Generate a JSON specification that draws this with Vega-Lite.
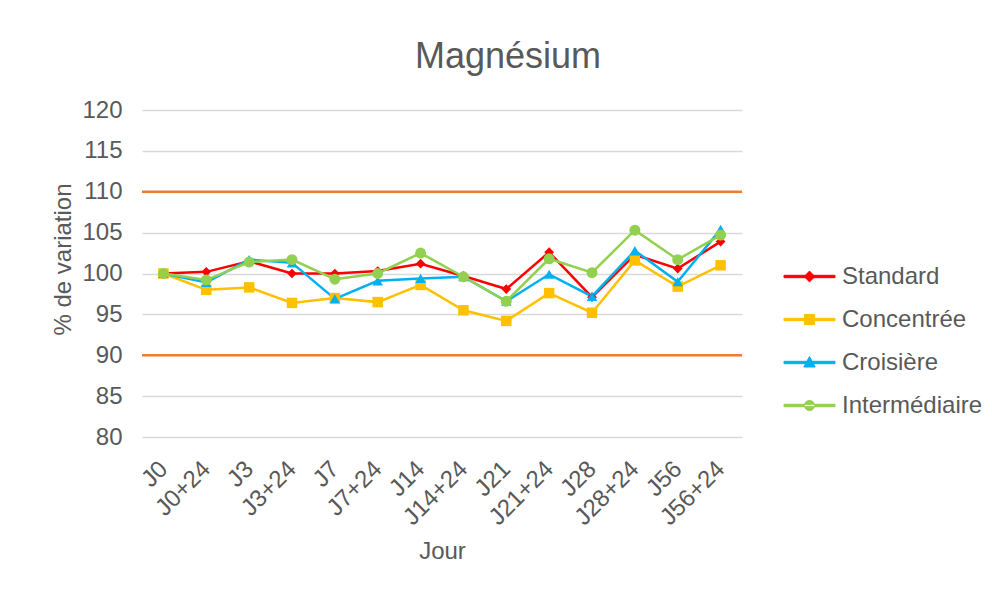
{
  "$schema": "https://vega.github.io/schema/vega-lite/v6.json",
  "width": 600,
  "height": 327,
  "autosize": {"type": "none"},
  "padding": {"left": 142, "top": 110, "right": 250, "bottom": 153},
  "background": "white",
  "title": {
    "text": "Magnésium",
    "fontSize": 36,
    "fontWeight": "normal",
    "font": "Liberation Sans",
    "color": "#595959",
    "anchor": "middle",
    "dx": 66,
    "offset": 22
  },
  "config": {
    "view": {"stroke": null},
    "font": "Liberation Sans",
    "axis": {
      "labelFont": "Liberation Sans",
      "titleFont": "Liberation Sans",
      "labelColor": "#595959",
      "titleColor": "#595959",
      "labelFontSize": 24,
      "titleFontSize": 24,
      "titleFontWeight": "normal",
      "ticks": false,
      "domain": false
    }
  },
  "datasets": {
    "mg": [
      {"jour": "J0", "serie": "Standard", "v": 100.0},
      {"jour": "J0+24", "serie": "Standard", "v": 100.2},
      {"jour": "J3", "serie": "Standard", "v": 101.5},
      {"jour": "J3+24", "serie": "Standard", "v": 100.0},
      {"jour": "J7", "serie": "Standard", "v": 100.0},
      {"jour": "J7+24", "serie": "Standard", "v": 100.3},
      {"jour": "J14", "serie": "Standard", "v": 101.2},
      {"jour": "J14+24", "serie": "Standard", "v": 99.7},
      {"jour": "J21", "serie": "Standard", "v": 98.1},
      {"jour": "J21+24", "serie": "Standard", "v": 102.6},
      {"jour": "J28", "serie": "Standard", "v": 97.1},
      {"jour": "J28+24", "serie": "Standard", "v": 102.3},
      {"jour": "J56", "serie": "Standard", "v": 100.6},
      {"jour": "J56+24", "serie": "Standard", "v": 103.9},
      {"jour": "J0", "serie": "Concentrée", "v": 100.0},
      {"jour": "J0+24", "serie": "Concentrée", "v": 98.0},
      {"jour": "J3", "serie": "Concentrée", "v": 98.3},
      {"jour": "J3+24", "serie": "Concentrée", "v": 96.4},
      {"jour": "J7", "serie": "Concentrée", "v": 97.0},
      {"jour": "J7+24", "serie": "Concentrée", "v": 96.5},
      {"jour": "J14", "serie": "Concentrée", "v": 98.6},
      {"jour": "J14+24", "serie": "Concentrée", "v": 95.5},
      {"jour": "J21", "serie": "Concentrée", "v": 94.2},
      {"jour": "J21+24", "serie": "Concentrée", "v": 97.6},
      {"jour": "J28", "serie": "Concentrée", "v": 95.2},
      {"jour": "J28+24", "serie": "Concentrée", "v": 101.6},
      {"jour": "J56", "serie": "Concentrée", "v": 98.4},
      {"jour": "J56+24", "serie": "Concentrée", "v": 101.0},
      {"jour": "J0", "serie": "Croisière", "v": 100.0},
      {"jour": "J0+24", "serie": "Croisière", "v": 98.9},
      {"jour": "J3", "serie": "Croisière", "v": 101.7},
      {"jour": "J3+24", "serie": "Croisière", "v": 101.3},
      {"jour": "J7", "serie": "Croisière", "v": 96.9},
      {"jour": "J7+24", "serie": "Croisière", "v": 99.1},
      {"jour": "J14", "serie": "Croisière", "v": 99.4},
      {"jour": "J14+24", "serie": "Croisière", "v": 99.6},
      {"jour": "J21", "serie": "Croisière", "v": 96.6},
      {"jour": "J21+24", "serie": "Croisière", "v": 99.9},
      {"jour": "J28", "serie": "Croisière", "v": 97.2},
      {"jour": "J28+24", "serie": "Croisière", "v": 102.8},
      {"jour": "J56", "serie": "Croisière", "v": 99.0},
      {"jour": "J56+24", "serie": "Croisière", "v": 105.4},
      {"jour": "J0", "serie": "Intermédiaire", "v": 100.0},
      {"jour": "J0+24", "serie": "Intermédiaire", "v": 99.2},
      {"jour": "J3", "serie": "Intermédiaire", "v": 101.4},
      {"jour": "J3+24", "serie": "Intermédiaire", "v": 101.7},
      {"jour": "J7", "serie": "Intermédiaire", "v": 99.3},
      {"jour": "J7+24", "serie": "Intermédiaire", "v": 100.0},
      {"jour": "J14", "serie": "Intermédiaire", "v": 102.5},
      {"jour": "J14+24", "serie": "Intermédiaire", "v": 99.6},
      {"jour": "J21", "serie": "Intermédiaire", "v": 96.6},
      {"jour": "J21+24", "serie": "Intermédiaire", "v": 101.8},
      {"jour": "J28", "serie": "Intermédiaire", "v": 100.1},
      {"jour": "J28+24", "serie": "Intermédiaire", "v": 105.3},
      {"jour": "J56", "serie": "Intermédiaire", "v": 101.7},
      {"jour": "J56+24", "serie": "Intermédiaire", "v": 104.7}
    ],
    "lim": [{"v": 90}, {"v": 110}]
  },
  "encoding": {
    "x": {
      "field": "jour", "type": "ordinal",
      "sort": ["J0","J0+24","J3","J3+24","J7","J7+24","J14","J14+24","J21","J21+24","J28","J28+24","J56","J56+24"],
      "scale": {"type": "point", "padding": 0.5},
      "title": "Jour",
      "axis": {"labelAngle": -45, "labelAlign": "right", "labelBaseline": "middle", "labelPadding": 28, "titleX": 300, "titleY": 102, "grid": false}
    },
    "y": {
      "field": "v", "type": "quantitative",
      "scale": {"domain": [80, 120], "nice": false, "zero": false},
      "title": "% de variation",
      "axis": {"values": [80, 85, 90, 95, 100, 105, 110, 115, 120], "grid": true, "gridColor": "#D9D9D9", "gridWidth": 1.5, "labelPadding": 20, "titleX": -67, "titleY": 149}
    }
  },
  "layer": [
    {
      "data": {"name": "lim"},
      "mark": {"type": "rule", "color": "#ED7D31", "strokeWidth": 2.5},
      "encoding": {
        "x": null,
        "y": {
          "field": "v", "type": "quantitative",
          "scale": {"domain": [80, 120], "nice": false, "zero": false},
          "title": "% de variation"
        }
      }
    },
    {
      "data": {"name": "mg"},
      "mark": {"type": "line", "strokeWidth": 2.5},
      "encoding": {
        "color": {
          "field": "serie", "type": "nominal",
          "scale": {"domain": ["Standard", "Concentrée", "Croisière", "Intermédiaire"], "range": ["#FF0000", "#FFC000", "#00B0F0", "#92D050"]},
          "legend": {
            "title": null,
            "orient": "none",
            "legendX": 652,
            "legendY": 151,
            "padding": 0,
            "symbolSize": 900,
            "symbolStrokeWidth": 1,
            "labelFontSize": 24,
            "labelColor": "#595959",
            "labelFont": "Liberation Sans",
            "labelOffset": 17,
            "rowPadding": 15,
            "encode": {
              "symbols": {
                "update": {
                  "shape": {"signal": "datum.value === 'Standard' ? 'M-1.7,-0.08H1.7V0.08H-1.7ZM0,-0.36L0.36,0L0,0.36L-0.36,0Z' : datum.value === 'Concentrée' ? 'M-1.7,-0.08H1.7V0.08H-1.7ZM-0.34,-0.34H0.34V0.34H-0.34Z' : datum.value === 'Croisière' ? 'M-1.7,-0.08H1.7V0.08H-1.7ZM0,-0.4L0.38,0.3H-0.38Z' : 'M-1.7,-0.08H1.7V0.08H-1.7ZM-0.34,0A0.34,0.34 0 1,0 0.34,0A0.34,0.34 0 1,0 -0.34,0Z'"},
                  "fill": {"signal": "scale('color', datum.value)"},
                  "stroke": {"signal": "scale('color', datum.value)"},
                  "strokeWidth": {"value": 1},
                  "strokeOpacity": {"value": 1},
                  "fillOpacity": {"value": 1},
                  "opacity": {"value": 1}
                }
              }
            }
          }
        }
      }
    },
    {
      "data": {"name": "mg"},
      "transform": [{"filter": "datum.serie === 'Standard'"}],
      "mark": {"type": "point", "filled": true, "opacity": 1, "shape": "diamond", "size": 95, "color": "#FF0000"}
    },
    {
      "data": {"name": "mg"},
      "transform": [{"filter": "datum.serie === 'Concentrée'"}],
      "mark": {"type": "point", "filled": true, "opacity": 1, "shape": "square", "size": 110, "color": "#FFC000"}
    },
    {
      "data": {"name": "mg"},
      "transform": [{"filter": "datum.serie === 'Croisière'"}],
      "mark": {"type": "point", "filled": true, "opacity": 1, "shape": "triangle-up", "size": 110, "color": "#00B0F0"}
    },
    {
      "data": {"name": "mg"},
      "transform": [{"filter": "datum.serie === 'Intermédiaire'"}],
      "mark": {"type": "point", "filled": true, "opacity": 1, "shape": "circle", "size": 120, "color": "#92D050"}
    }
  ]
}
